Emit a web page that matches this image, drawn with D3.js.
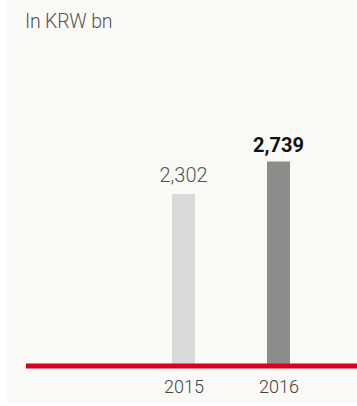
<!DOCTYPE html>
<html>
<head>
<meta charset="utf-8">
<script src="https://cdn.jsdelivr.net/npm/d3@7"></script>
<style>
  body { margin: 0; background: #ffffff; }
  text { font-family: Roboto, "Liberation Sans", sans-serif; }
</style>
</head>
<body>
<div id="chart"></div>
<script>
// values
var years = ['2015', '2016'];
var values = [2302, 2739];
var labels = ['2,302', '2,739'];
var unit = 'In KRW bn';

var width = 357;
var height = 406;
var baseY = 366;
var barWidth = 23;

var svg = d3.select('#chart')
  .append('svg')
  .attr('width', width)
  .attr('height', height);

// pale panel behind the chart
svg.append('rect')
  .attr('x', 7)
  .attr('y', 0)
  .attr('width', width - 7)
  .attr('height', 403)
  .attr('fill', '#f9f9f6');

var x = d3.scalePoint()
  .domain(years)
  .range([183.5, 278.5]);

var y = d3.scaleLinear()
  .domain([0, 2739])
  .range([baseY, 161.5]);

//unit label top left
svg.append('text')
  .attr('x', 25)
  .attr('y', 28)
  .attr('font-size', 19.5)
  .attr('font-weight', 300)
  .attr('letter-spacing', -0.2)
  .attr('fill', '#555')
  .text(unit);

//bars, last year darker
svg.selectAll('rect.bar')
  .data(values)
  .enter()
  .append('rect')
  .attr('class', 'bar')
  .attr('x', function(d, i) { return x(years[i]) - barWidth / 2; })
  .attr('y', function(d) { return y(d); })
  .attr('width', barWidth)
  .attr('height', function(d) { return baseY - y(d); })
  .attr('fill', function(d, i) { return i === years.length - 1 ? '#8b8d8b' : '#d9d9d9'; });

//value labels
svg.selectAll('text.val')
  .data(values)
  .enter()
  .append('text')
  .attr('class', 'val')
  .attr('x', function(d, i) { return x(years[i]); })
  .attr('y', function(d, i) { return i === years.length - 1 ? 152 : 182; })
  .attr('text-anchor', 'middle')
  .attr('font-size', 20)
  .attr('font-weight', function(d, i) { return i === years.length - 1 ? 700 : 300; })
  .attr('fill', function(d, i) { return i === years.length - 1 ? '#111' : '#555'; })
  .text(function(d, i) { return labels[i]; });

//red base line
svg.append('line')
  .attr('x1', 26)
  .attr('x2', width)
  .attr('y1', baseY)
  .attr('y2', baseY)
  .attr('stroke', '#d7001e')
  .attr('stroke-width', 5);

//year labels under the line
var axis = d3.axisBottom(x).tickSize(0).tickPadding(0);
var g = svg.append('g')
  .attr('transform', 'translate(0,' + 380 + ')')
  .call(axis);
g.select('.domain').remove();
g.selectAll('text')
  .attr('font-size', 18)
  .attr('font-weight', 300)
  .attr('fill', '#444')
  .attr('font-family', 'Roboto, sans-serif');
</script>
</body>
</html>
